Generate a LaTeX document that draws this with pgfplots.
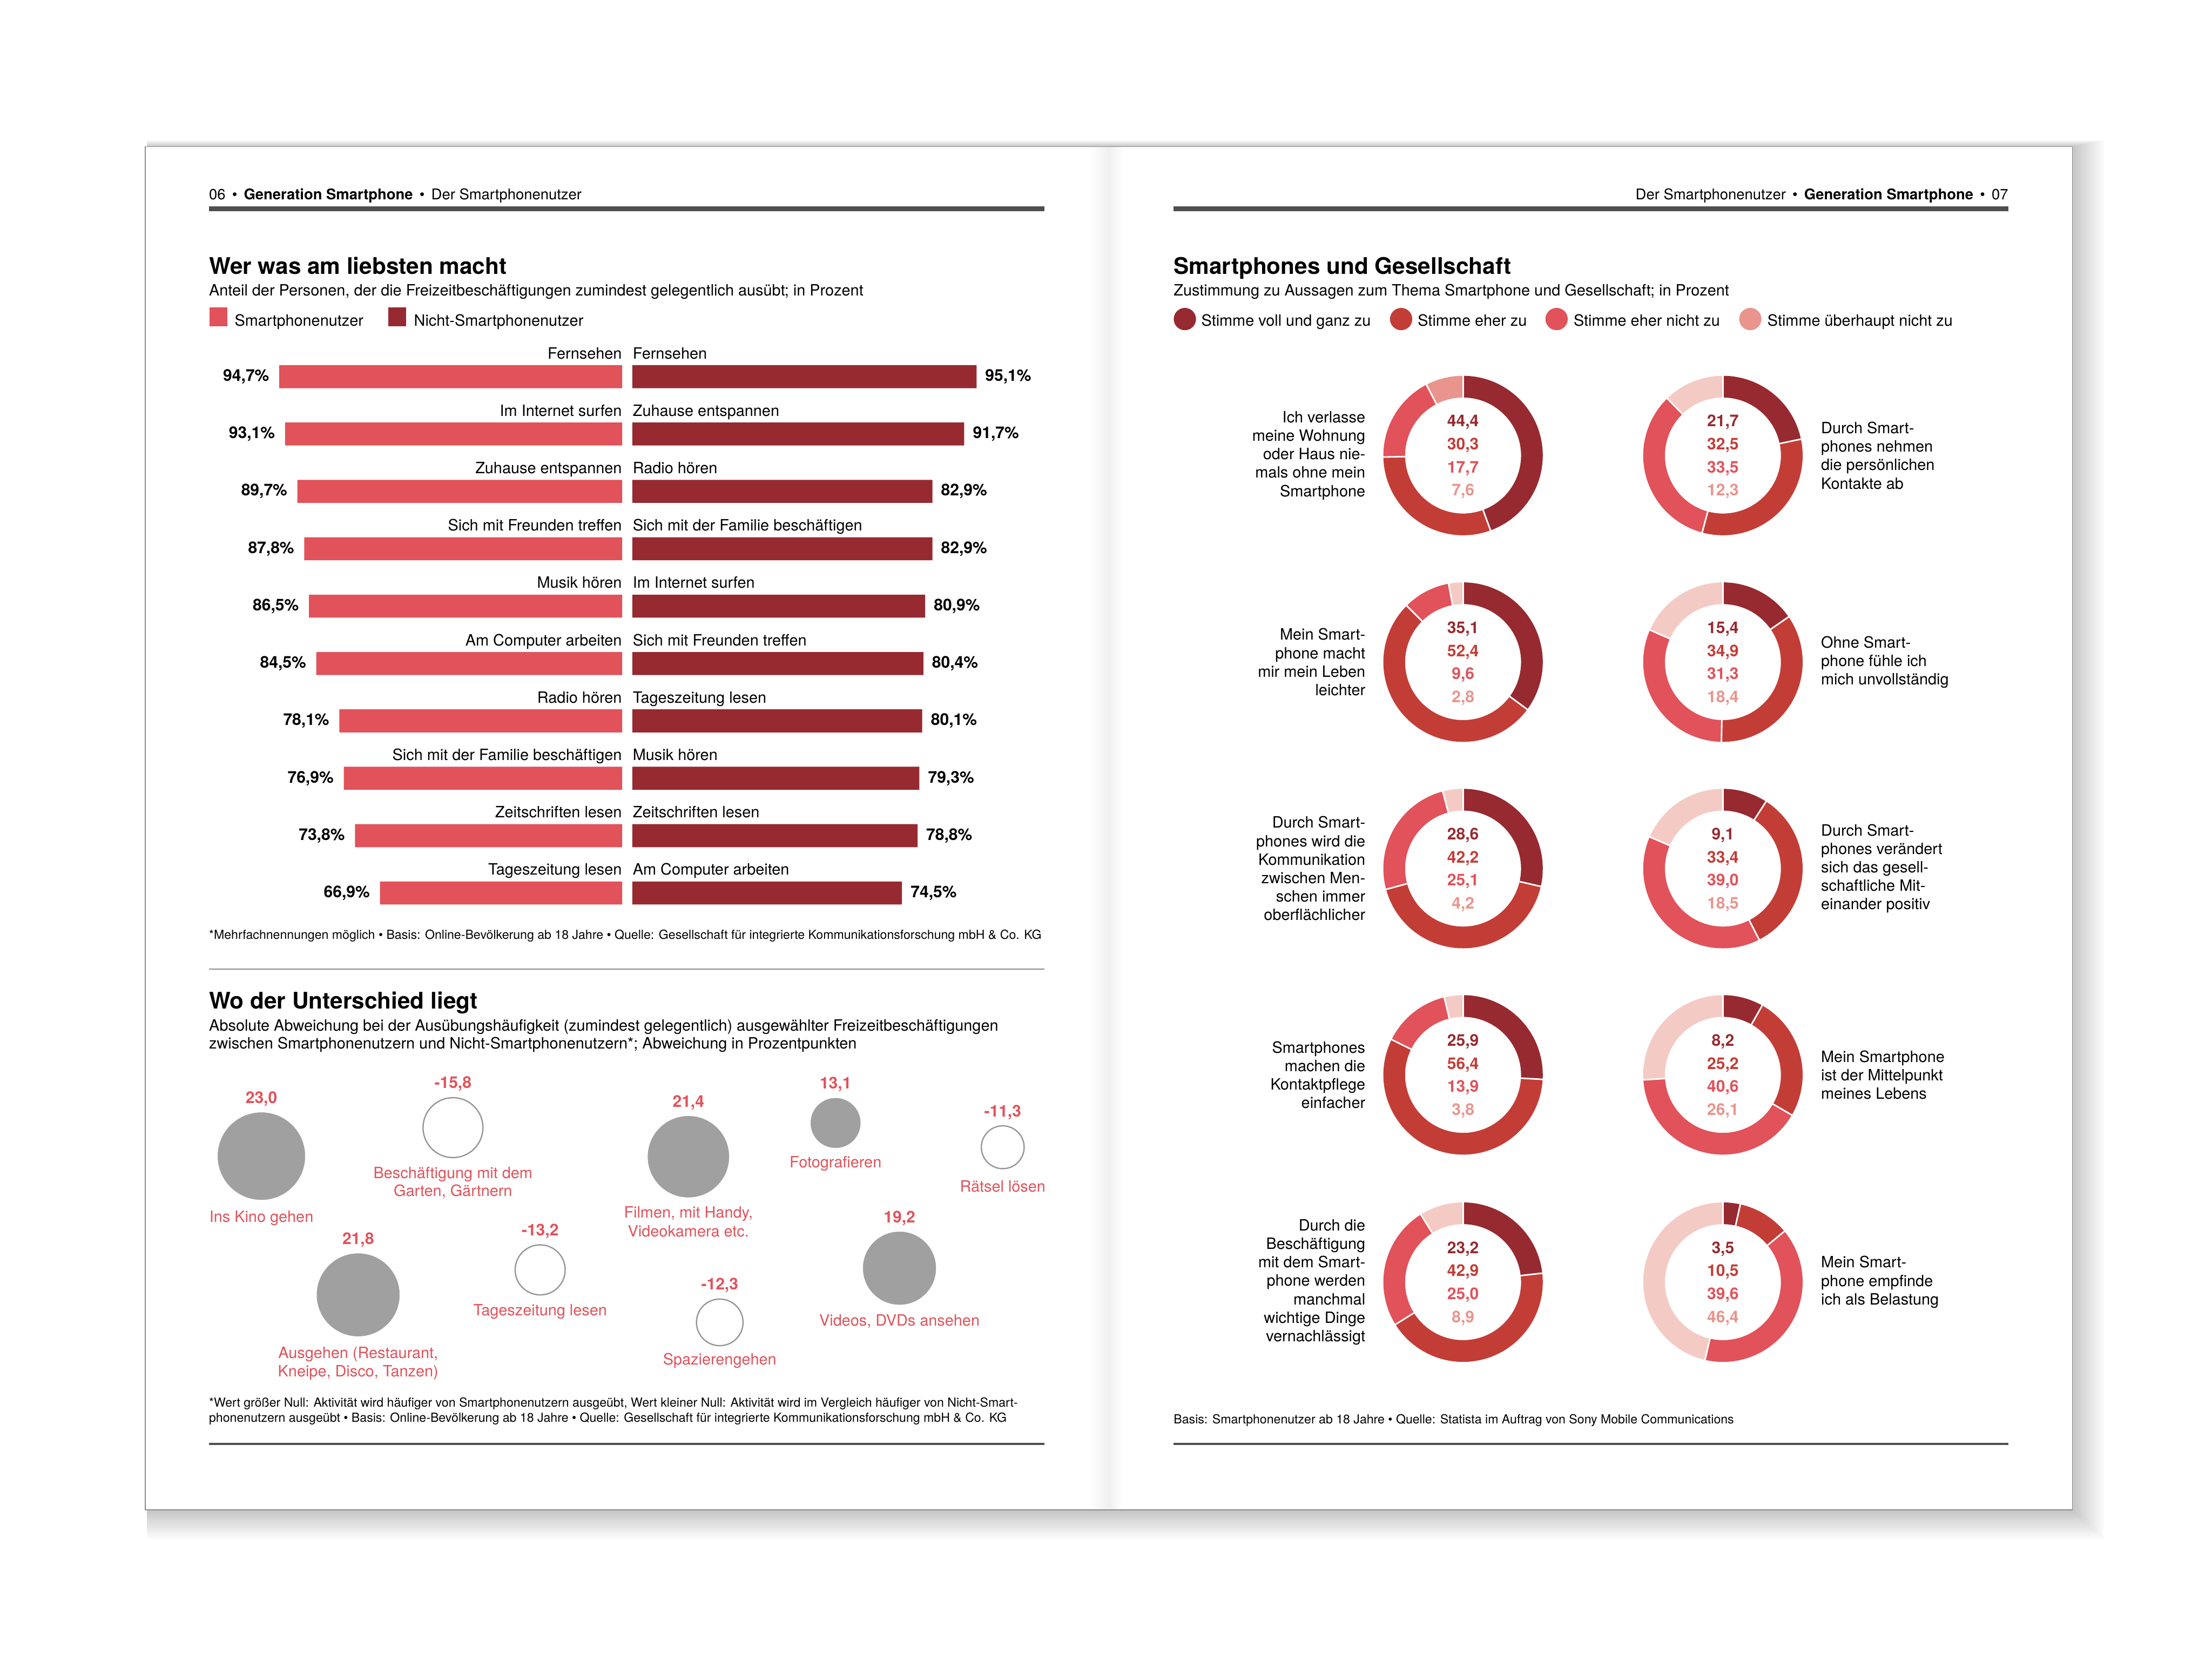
\documentclass[border=0pt]{standalone}
\usepackage{fontspec}
\setmainfont{TeX Gyre Heros}
\usepackage{pgfplots}
\pgfplotsset{compat=1.18}
\usepackage{pgfplotstable}

\definecolor{cSmart}{HTML}{E1525A}
\definecolor{cNicht}{HTML}{962A30}
\definecolor{cVoll}{HTML}{962A30}
\definecolor{cEher}{HTML}{C33D37}
\definecolor{cEherNicht}{HTML}{E1525A}
\definecolor{cSalmon}{HTML}{E9948C}
\definecolor{cPale}{HTML}{F4CBC4}
\definecolor{cBubble}{HTML}{A0A0A0}
\definecolor{cRule}{HTML}{4F4F4F}

\newcommand\txt{\fontsize{11.05}{13.1}\selectfont}
\newcommand\vfont{\fontsize{11.5}{13}\selectfont\bfseries}
\newcommand\fnote{\fontsize{8.85}{10.2}\selectfont}
\newcommand\ttl{\fontsize{16.2}{19}\selectfont\bfseries}
\newcommand\hdr{\fontsize{10.5}{12}\selectfont}

% Smartphonenutzer, rank order
\pgfplotstableread{
row val
1 94.7
2 93.1
3 89.7
4 87.8
5 86.5
6 84.5
7 78.1
8 76.9
9 73.8
10 66.9
}\smartdata

% Nicht-Smartphonenutzer, rank order
\pgfplotstableread{
row val
1 95.1
2 91.7
3 82.9
4 82.9
5 80.9
6 80.4
7 80.1
8 79.3
9 78.8
10 74.5
}\nichtdata

% bubbles: position on the page, value in Prozentpunkten
\pgfplotstableread{
x y v
185.3 819.3 23.0
488.0 819.7 21.4
592.3 795.8 13.1
253.9 917.6 21.8
637.6 898.7 19.2
}\posbubbles
\pgfplotstableread{
x y v
321.1 799.1 -15.8
710.8 813.0 -11.3
382.9 899.9 -13.2
510.2 937.1 -12.3
}\negbubbles

% donuts: centre, four shares, salmon flag for last share
\pgfplotstableread{
cx cy a b c d f
1037.1 322.8 44.4 30.3 17.7 7.6 1
1221.3 322.8 21.7 32.5 33.5 12.3 0
1037.1 469.2 35.1 52.4 9.6 2.8 0
1221.3 469.2 15.4 34.9 31.3 18.4 0
1037.1 615.5 28.6 42.2 25.1 4.2 0
1221.3 615.5 9.1 33.4 39.0 18.5 0
1037.1 761.7 25.9 56.4 13.9 3.8 0
1221.3 761.7 8.2 25.2 40.6 26.1 0
1037.1 908.6 23.2 42.9 25.0 8.9 0
1221.3 908.6 3.5 10.5 39.6 46.4 0
}\donutdata

\pgfkeys{/pgf/number format/.cd,fixed,fixed zerofill,precision=1,use comma,assume math mode=true}

\begin{document}
\begin{tikzpicture}

\begin{scope}[x=1pt,y=-1pt]
\fill[white] (0,0) rectangle (1568,1176);
% page shadow
\foreach \i in {0,...,19}
  \fill[black,opacity=0.013] (104,104-0.25*\i) rectangle (1469+1.2*\i,1070+1.1*\i);
\fill[white] (103,104) rectangle (1469,1070);
\draw[black!45,line width=0.6pt] (103,104) rectangle (1469,1070);
% fold
\shade[left color=white,right color=black!6] (772,104.5) rectangle (786,1069.5);
\shade[left color=black!6,right color=white] (786,104.5) rectangle (796,1069.5);

% running heads
\node[anchor=base west,inner sep=0pt,font=\hdr] at (148,141.6)
  {06 \,•\, \textbf{Generation Smartphone} \,•\, Der Smartphonenutzer};
\fill[cRule] (148,146.4) rectangle (740.5,149.6);
\node[anchor=base east,inner sep=0pt,font=\hdr] at (1423.7,141.6)
  {Der Smartphonenutzer \,•\, \textbf{Generation Smartphone} \,•\, 07};
\fill[cRule] (831.8,146.4) rectangle (1423.7,149.6);

% left titles
\node[anchor=base west,inner sep=0pt,font=\ttl] at (148,194.4) {Wer was am liebsten macht};
\node[anchor=base west,inner sep=0pt,font=\txt] at (148,209.7)
  {Anteil der Personen, der die Freizeitbeschäftigungen zumindest gelegentlich ausübt; in Prozent};
\fill[cSmart] (148.4,218) rectangle (161.3,231.2);
\node[anchor=base west,inner sep=0pt,font=\txt] at (166.2,230.9) {Smartphonenutzer};
\fill[cNicht] (275.1,218) rectangle (288,231.2);
\node[anchor=base west,inner sep=0pt,font=\txt] at (293.3,230.9) {Nicht-Smartphonenutzer};

% bar category labels
\foreach \lab [count=\i] in {Fernsehen,Im Internet surfen,Zuhause entspannen,Sich mit Freunden treffen,Musik hören,Am Computer arbeiten,Radio hören,Sich mit der Familie beschäftigen,Zeitschriften lesen,Tageszeitung lesen}
  \node[anchor=base east,inner sep=0pt,font=\txt] at (441,{254.2+40.66*(\i-1)}) {\lab};
\foreach \lab [count=\i] in {Fernsehen,Zuhause entspannen,Radio hören,Sich mit der Familie beschäftigen,Im Internet surfen,Sich mit Freunden treffen,Tageszeitung lesen,Musik hören,Zeitschriften lesen,Am Computer arbeiten}
  \node[anchor=base west,inner sep=0pt,font=\txt] at (448.4,{254.2+40.66*(\i-1)}) {\lab};

\node[anchor=base west,inner sep=0pt,font=\fnote] at (148,665.5)
  {*Mehrfachnennungen möglich • Basis: Online-Bevölkerung ab 18 Jahre • Quelle: Gesellschaft für integrierte Kommunikationsforschung mbH \& Co. KG};
\draw[black!45,line width=0.8pt] (148,686.7) -- (740.5,686.7);

% second block
\node[anchor=base west,inner sep=0pt,font=\ttl] at (148,715) {Wo der Unterschied liegt};
\node[anchor=base west,inner sep=0pt,font=\txt] at (148,730.5)
  {Absolute Abweichung bei der Ausübungshäufigkeit (zumindest gelegentlich) ausgewählter Freizeitbeschäftigungen};
\node[anchor=base west,inner sep=0pt,font=\txt] at (148,743.3)
  {zwischen Smartphonenutzern und Nicht-Smartphonenutzern*; Abweichung in Prozentpunkten};

\begin{scope}[every node/.style={anchor=base,inner sep=0pt,font=\txt,text=cSmart}]
\node at (185.3,866) {Ins Kino gehen};
\node at (321.1,834.9) {Beschäftigung mit dem};
\node at (321.1,847.9) {Garten, Gärtnern};
\node at (488,863.2) {Filmen, mit Handy,};
\node at (488,876.6) {Videokamera etc.};
\node at (592.3,827.5) {Fotografieren};
\node at (710.8,844.5) {Rätsel lösen};
\node at (253.9,962.6) {Ausgehen (Restaurant,};
\node at (253.9,975.4) {Kneipe, Disco, Tanzen)};
\node at (382.9,932.5) {Tageszeitung lesen};
\node at (510.2,967.2) {Spazierengehen};
\node at (637.6,939.7) {Videos, DVDs ansehen};
\end{scope}

\node[anchor=base west,inner sep=0pt,font=\fnote] at (148,997.1)
  {*Wert größer Null: Aktivität wird häufiger von Smartphonenutzern ausgeübt, Wert kleiner Null: Aktivität wird im Vergleich häufiger von Nicht-Smart-};
\node[anchor=base west,inner sep=0pt,font=\fnote] at (148,1007.6)
  {phonenutzern ausgeübt • Basis: Online-Bevölkerung ab 18 Jahre • Quelle: Gesellschaft für integrierte Kommunikationsforschung mbH \& Co. KG};
\fill[cRule] (148,1022.3) rectangle (740.5,1023.9);

% right page
\node[anchor=base west,inner sep=0pt,font=\ttl] at (831.8,194.4) {Smartphones und Gesellschaft};
\node[anchor=base west,inner sep=0pt,font=\txt] at (831.8,209.7)
  {Zustimmung zu Aussagen zum Thema Smartphone und Gesellschaft; in Prozent};
\fill[cVoll] (839.9,226.1) circle (7.9);
\node[anchor=base west,inner sep=0pt,font=\txt] at (851.4,230.9) {Stimme voll und ganz zu};
\fill[cEher] (993.2,226.1) circle (7.9);
\node[anchor=base west,inner sep=0pt,font=\txt] at (1004.8,230.9) {Stimme eher zu};
\fill[cEherNicht] (1103.4,226.1) circle (7.9);
\node[anchor=base west,inner sep=0pt,font=\txt] at (1115.3,230.9) {Stimme eher nicht zu};
\fill[cSalmon] (1240.7,226.1) circle (7.9);
\node[anchor=base west,inner sep=0pt,font=\txt] at (1252.7,230.9) {Stimme überhaupt nicht zu};

\begin{scope}[every node/.style={inner sep=0pt,font=\txt}]
\node[anchor=east,align=right] at (968,322.8) {Ich verlasse\\meine Wohnung\\oder Haus nie-\\mals ohne mein\\Smartphone};
\node[anchor=west,align=left] at (1290.7,322.8) {Durch Smart-\\phones nehmen\\die persönlichen\\Kontakte ab};
\node[anchor=east,align=right] at (968,469.2) {Mein Smart-\\phone macht\\mir mein Leben\\leichter};
\node[anchor=west,align=left] at (1290.7,469.2) {Ohne Smart-\\phone fühle ich\\mich unvollständig};
\node[anchor=east,align=right] at (968,615.5) {Durch Smart-\\phones wird die\\Kommunikation\\zwischen Men-\\schen immer\\oberflächlicher};
\node[anchor=west,align=left] at (1290.7,615.5) {Durch Smart-\\phones verändert\\sich das gesell-\\schaftliche Mit-\\einander positiv};
\node[anchor=east,align=right] at (968,761.7) {Smartphones\\machen die\\Kontaktpflege\\einfacher};
\node[anchor=west,align=left] at (1290.7,761.7) {Mein Smartphone\\ist der Mittelpunkt\\meines Lebens};
\node[anchor=east,align=right] at (968,908.6) {Durch die\\Beschäftigung\\mit dem Smart-\\phone werden\\manchmal\\wichtige Dinge\\vernachlässigt};
\node[anchor=west,align=left] at (1290.7,908.6) {Mein Smart-\\phone empfinde\\ich als Belastung};
\end{scope}

\node[anchor=base west,inner sep=0pt,font=\fnote] at (831.8,1008.9)
  {Basis: Smartphonenutzer ab 18 Jahre • Quelle: Statista im Auftrag von Sony Mobile Communications};
\fill[cRule] (831.8,1022.3) rectangle (1423.7,1023.9);
\end{scope}

% butterfly bars, left half
\begin{axis}[at={(441pt,-246.57pt)},anchor=north east,scale only axis,
  width=256.6pt,height=406.6pt,xbar,bar width=16.3pt,
  xmin=0,xmax=100,x dir=reverse,ymin=0.5,ymax=10.5,y dir=reverse,
  hide axis,clip=false,point meta=x,
  nodes near coords={\pgfmathprintnumber{\pgfplotspointmeta}\%},
  every node near coord/.append style={anchor=east,xshift=-7pt,inner sep=0pt,font=\vfont,text=black}]
\addplot[fill=cSmart,draw=none] table[x=val,y=row]{\smartdata};
\end{axis}

% butterfly bars, right half
\begin{axis}[at={(448.2pt,-246.57pt)},anchor=north west,scale only axis,
  width=256.6pt,height=406.6pt,xbar,bar width=16.3pt,
  xmin=0,xmax=100,ymin=0.5,ymax=10.5,y dir=reverse,
  hide axis,clip=false,point meta=x,
  nodes near coords={\pgfmathprintnumber{\pgfplotspointmeta}\%},
  every node near coord/.append style={anchor=west,xshift=6pt,inner sep=0pt,font=\vfont,text=black}]
\addplot[fill=cNicht,draw=none] table[x=val,y=row]{\nichtdata};
\end{axis}

% bubbles
\begin{axis}[at={(148pt,-740pt)},anchor=north west,scale only axis,
  width=593pt,height=250pt,xmin=148,xmax=741,ymin=740,ymax=990,y dir=reverse,
  hide axis,clip=false,
  bubblelab/.style={only marks,mark=*,mark size=0pt,point meta=explicit,
    visualization depends on={1.343*abs(\thisrow{v})+9.7\as\lshift},
    nodes near coords={\pgfmathprintnumber{\pgfplotspointmeta}},
    every node near coord/.append style={anchor=center,yshift=\lshift,inner sep=0pt,font=\vfont,text=cSmart}}]
% value labels first, bubbles drawn on top
\addplot[bubblelab,forget plot] table[x=x,y=y,meta=v]{\posbubbles};
\addplot[bubblelab,forget plot] table[x=x,y=y,meta=v]{\negbubbles};
\addplot[scatter,only marks,mark=*,point meta=explicit,
  mark options={draw=cBubble,fill=cBubble,line width=0.2pt},
  scatter/use mapped color={draw=cBubble,fill=cBubble},
  visualization depends on={1.343*abs(\thisrow{v})\as\msize},
  scatter/@pre marker code/.append style={/tikz/mark size=\msize}]
  table[x=x,y=y,meta=v]{\posbubbles};
\addplot[scatter,only marks,mark=*,point meta=explicit,
  mark options={draw=black!42,fill=white,line width=0.9pt},
  scatter/use mapped color={draw=black!42,fill=white},
  visualization depends on={1.343*abs(\thisrow{v})\as\msize},
  scatter/@pre marker code/.append style={/tikz/mark size=\msize,/tikz/line width=0.9pt}]
  table[x=x,y=y,meta=v]{\negbubbles};
\end{axis}

% donuts
\begin{axis}[at={(831.8pt,-240pt)},anchor=north west,scale only axis,
  width=592pt,height=740pt,xmin=831.8,xmax=1423.8,ymin=240,ymax=980,y dir=reverse,
  hide axis,clip=false]
\addplot[draw=none,mark=none,forget plot] table[x=cx,y=cy]{\donutdata};
\pgfplotsextra{%
\foreach \r in {0,...,9}{%
  \pgfplotstablegetelem{\r}{cx}\of\donutdata \let\cx\pgfplotsretval
  \pgfplotstablegetelem{\r}{cy}\of\donutdata \let\cy\pgfplotsretval
  \pgfplotstablegetelem{\r}{a}\of\donutdata \let\va\pgfplotsretval
  \pgfplotstablegetelem{\r}{b}\of\donutdata \let\vb\pgfplotsretval
  \pgfplotstablegetelem{\r}{c}\of\donutdata \let\vc\pgfplotsretval
  \pgfplotstablegetelem{\r}{d}\of\donutdata \let\vd\pgfplotsretval
  \pgfplotstablegetelem{\r}{f}\of\donutdata \let\vf\pgfplotsretval
  \ifnum\vf=1 \def\cfour{cSalmon}\else\def\cfour{cPale}\fi
  \pgfmathsetmacro\aA{90}
  \pgfmathsetmacro\aB{90-3.6*\va}
  \pgfmathsetmacro\aC{\aB-3.6*\vb}
  \pgfmathsetmacro\aD{\aC-3.6*\vc}
  \pgfmathsetmacro\aE{\aD-3.6*\vd}
  \draw[cVoll,line width=15.4pt] (axis cs:\cx,\cy) ++(\aA:48.8pt) arc[start angle=\aA,end angle=\aB,radius=48.8pt];
  \draw[cEher,line width=15.4pt] (axis cs:\cx,\cy) ++(\aB:48.8pt) arc[start angle=\aB,end angle=\aC,radius=48.8pt];
  \draw[cEherNicht,line width=15.4pt] (axis cs:\cx,\cy) ++(\aC:48.8pt) arc[start angle=\aC,end angle=\aD,radius=48.8pt];
  \draw[\cfour,line width=15.4pt] (axis cs:\cx,\cy) ++(\aD:48.8pt) arc[start angle=\aD,end angle=\aE,radius=48.8pt];
  \foreach \s in {\aA,\aB,\aC,\aD}
    \draw[white,line width=1.1pt] (axis cs:\cx,\cy) ++(\s:40pt) -- ++(\s:17.6pt);
  \node[anchor=base,inner sep=0pt,font=\vfont,text=cVoll,yshift=20.4pt] at (axis cs:\cx,\cy) {\pgfmathprintnumber{\va}};
  \node[anchor=base,inner sep=0pt,font=\vfont,text=cEher,yshift=4.1pt] at (axis cs:\cx,\cy) {\pgfmathprintnumber{\vb}};
  \node[anchor=base,inner sep=0pt,font=\vfont,text=cEherNicht,yshift=-12.2pt] at (axis cs:\cx,\cy) {\pgfmathprintnumber{\vc}};
  \node[anchor=base,inner sep=0pt,font=\vfont,text=cSalmon,yshift=-28.5pt] at (axis cs:\cx,\cy) {\pgfmathprintnumber{\vd}};
}}
\end{axis}

\end{tikzpicture}
\end{document}
